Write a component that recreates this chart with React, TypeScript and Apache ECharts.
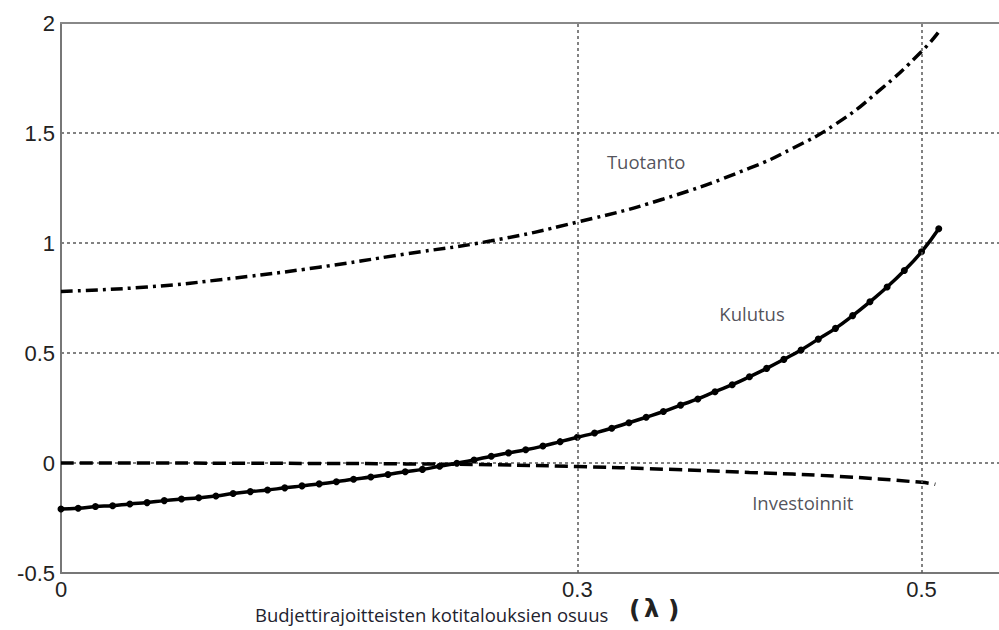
import React, { useEffect, useRef } from "react";
import * as echarts from "echarts";

const xLabels = ["0", "0.3", "0.5"];
const yMin = -0.5;
const yMax = 2;

const kulutusX = [
  0, 0.01, 0.02, 0.03, 0.04, 0.05, 0.06, 0.07, 0.08, 0.09,
  0.1, 0.11, 0.12, 0.13, 0.14, 0.15, 0.16, 0.17, 0.18, 0.19,
  0.2, 0.21, 0.22, 0.23, 0.24, 0.25, 0.26, 0.27, 0.28, 0.29,
  0.3, 0.31, 0.32, 0.33, 0.34, 0.35, 0.36, 0.37, 0.38, 0.39,
  0.4, 0.41, 0.42, 0.43, 0.44, 0.45, 0.46, 0.47, 0.48, 0.49,
  0.5, 0.51,
];
const kulutusY = [
  -0.209, -0.206, -0.198, -0.194, -0.186, -0.18, -0.171, -0.164, -0.158, -0.15,
  -0.139, -0.13, -0.123, -0.113, -0.104, -0.095, -0.085, -0.074, -0.064, -0.052,
  -0.04, -0.029, -0.015, -0.001, 0.014, 0.031, 0.046, 0.06, 0.077, 0.097,
  0.117, 0.136, 0.158, 0.183, 0.208, 0.234, 0.263, 0.291, 0.324, 0.356,
  0.392, 0.43, 0.471, 0.514, 0.563, 0.612, 0.67, 0.733, 0.8, 0.875,
  0.96, 1.065,
];

const tuotantoX = [0, 0.05, 0.1, 0.15, 0.2, 0.25, 0.3, 0.35, 0.4, 0.425, 0.45, 0.475, 0.5, 0.51];
const tuotantoY = [0.78, 0.8, 0.84, 0.89, 0.95, 1.01, 1.095, 1.2, 1.34, 1.43, 1.54, 1.69, 1.87, 1.96];

const investX = [0, 0.05, 0.1, 0.15, 0.2, 0.25, 0.3, 0.35, 0.4, 0.45, 0.5, 0.508];
const investY = [0, 0, -0.001, -0.002, -0.004, -0.008, -0.016, -0.028, -0.043, -0.06, -0.088, -0.097];

const seriesNames = ["Tuotanto", "Kulutus", "Investoinnit"];
const xGridValues = [0.3, 0.5];

const zip = (xs: number[], ys: number[]) => xs.map((x, i) => [x, ys[i]]);

export default function App() {
  const ref = useRef<HTMLDivElement>(null);
  useEffect(() => {
    if (!ref.current) return;
    const chart = echarts.init(ref.current, null, { renderer: "svg" });
    const gridStyle = { color: "#5a5a5a", width: 1.5, type: [3, 3] as number[] };
    const axisFont = { fontFamily: "Liberation Sans", fontSize: 22, color: "#222" };
    const noteFont = "Open Sans";
    chart.setOption({
      animation: false,
      backgroundColor: "#fff",
      grid: { left: 61, right: 0, top: 23, bottom: 57, containLabel: false },
      xAxis: [
        {
          type: "value",
          min: 0,
          max: 0.545,
          interval: 0.1,
          position: "bottom",
          axisLine: { onZero: false, lineStyle: { color: "#777", width: 2 } },
          axisTick: { show: false },
          splitLine: { show: false },
          axisLabel: {
            ...axisFont,
            lineHeight: 17,
            margin: 8,
            showMaxLabel: false,
            formatter: (v: number) => {
              const i = [0, 0.3, 0.5].findIndex((t) => Math.abs(t - v) < 1e-6);
              return i >= 0 ? xLabels[i] : "";
            },
          },
        },
        {
          type: "value",
          min: 0,
          max: 0.545,
          position: "top",
          axisLine: { onZero: false, lineStyle: { color: "#888", width: 2 } },
          axisTick: { show: false },
          axisLabel: { show: false },
          splitLine: { show: false },
        },
      ],
      yAxis: {
        type: "value",
        min: yMin,
        max: yMax,
        interval: 0.5,
        axisLine: { show: true, onZero: false, lineStyle: { color: "#777", width: 2 } },
        axisTick: { show: false },
        splitLine: { show: true, lineStyle: gridStyle },
        axisLabel: { ...axisFont, margin: 6, formatter: (v: number) => String(v) },
      },
      graphic: [
        {
          type: "text",
          left: 255,
          top: 603,
          style: {
            text: "Budjettirajoitteisten kotitalouksien osuus",
            font: `18.5px "${noteFont}"`,
            lineHeight: 22,
            fill: "#22222e",
          },
        },
        {
          type: "text",
          left: 629,
          top: 597,
          style: { text: "(", font: `bold 25px "DejaVu Sans"`, fill: "#222" },
        },
        {
          type: "text",
          left: 644,
          top: 597,
          style: { text: "λ", font: `bold 24px "DejaVu Sans"`, fill: "#222" },
        },
        {
          type: "text",
          left: 668,
          top: 597,
          style: { text: ")", font: `bold 25px "DejaVu Sans"`, fill: "#222" },
        },
      ],
      series: [
        {
          name: seriesNames[0],
          type: "line",
          data: zip(tuotantoX, tuotantoY),
          smooth: true,
          showSymbol: false,
          lineStyle: { color: "#000", width: 3.5, type: [12, 5, 3, 5] },
          markLine: {
            silent: true,
            symbol: "none",
            label: { show: false },
            lineStyle: gridStyle,
            data: xGridValues.map((v) => ({ xAxis: v })),
          },
          z: 3,
        },
        {
          name: seriesNames[1],
          type: "line",
          data: zip(kulutusX, kulutusY),
          smooth: true,
          symbol: "circle",
          symbolSize: 7,
          showSymbol: true,
          itemStyle: { color: "#000" },
          lineStyle: { color: "#000", width: 3.5 },
          z: 3,
        },
        {
          name: seriesNames[2],
          type: "line",
          data: zip(investX, investY),
          smooth: true,
          showSymbol: false,
          lineStyle: { color: "#000", width: 3.5, type: [13, 6] },
          z: 3,
        },
        {
          type: "scatter",
          symbolSize: 0,
          silent: true,
          data: [
            { value: [0.34, 1.37], label: { formatter: seriesNames[0] } },
            { value: [0.4015, 0.68], label: { formatter: seriesNames[1] } },
            { value: [0.431, -0.18], label: { formatter: seriesNames[2] } },
          ],
          label: {
            show: true,
            position: "inside",
            fontFamily: noteFont,
            fontSize: 18.5,
            color: "#262630",
          },
        },
      ],
    });
    return () => chart.dispose();
  }, []);
  return (
    <div
      ref={ref}
      style={{ position: "fixed", left: 0, top: 0, width: 999, height: 630 }}
    />
  );
}
